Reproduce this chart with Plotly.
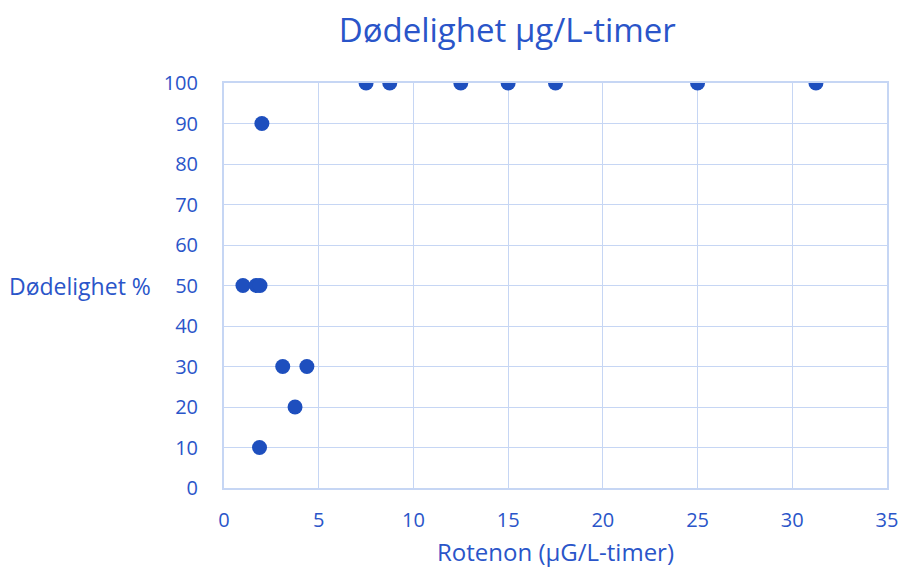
import plotly.graph_objects as go

rotenon = [7.5, 8.75, 12.5, 15, 17.5, 25, 31.25, 2.0, 1.0, 1.7, 1.9, 3.1, 4.375, 3.75, 1.875]
dodelighet = [100, 100, 100, 100, 100, 100, 100, 90, 50, 50, 50, 30, 30, 20, 10]

x_ticks = [0, 5, 10, 15, 20, 25, 30, 35]
y_ticks = [0, 10, 20, 30, 40, 50, 60, 70, 80, 90, 100]

text_color = "#2A55C9"
grid_color = "#C6D6F4"
dot_color = "#1E4FBE"
font_family = "Open Sans, Noto Sans, sans-serif"

fig = go.Figure()
fig.add_trace(go.Scatter(
    x=rotenon, y=dodelighet, mode="markers",
    marker=dict(size=15, color=dot_color),
    showlegend=False, hoverinfo="x+y",
))

fig.update_layout(
    width=901, height=569,
    margin=dict(l=224, r=14, t=83, b=81),
    paper_bgcolor="white", plot_bgcolor="white",
    font=dict(family=font_family, color=text_color, size=16),
    title=dict(text="Dødelighet µg/L-timer", x=0.563, xanchor="center",
               y=0.947, yanchor="middle",
               font=dict(size=33, color=text_color, family=font_family)),
    xaxis=dict(
        range=[0, 35], tickvals=x_ticks, ticktext=[str(v) for v in x_ticks],
        showgrid=True, gridcolor=grid_color, gridwidth=1, automargin=False,
        zeroline=False, showline=True, linecolor=grid_color, linewidth=2, mirror=True,
        ticks="", ticklabelstandoff=13,
        tickfont=dict(size=20, color=text_color),
    ),
    yaxis=dict(
        range=[0, 100], tickvals=y_ticks, ticktext=[str(v) for v in y_ticks],
        showgrid=True, gridcolor=grid_color, gridwidth=1, automargin=False,
        zeroline=False, showline=True, linecolor=grid_color, linewidth=2, mirror=True,
        ticks="", ticklabelstandoff=20,
        tickfont=dict(size=20, color=text_color),
    ),
    annotations=[
        dict(text="Dødelighet %", xref="paper", yref="y", x=-0.107, y=50,
             xanchor="right", yanchor="middle", showarrow=False,
             font=dict(size=23, color=text_color, family=font_family)),
        dict(text="Rotenon (µG/L-timer)", xref="x", yref="paper", x=17.5, y=-0.156,
             xanchor="center", yanchor="middle", showarrow=False, borderpad=0,
             font=dict(size=24, color=text_color, family=font_family)),
    ],
)

fig.write_html(
    "out.html",
    config={"displayModeBar": False},
    post_script="document.body.style.margin='0';document.body.style.overflow='hidden';",
)
